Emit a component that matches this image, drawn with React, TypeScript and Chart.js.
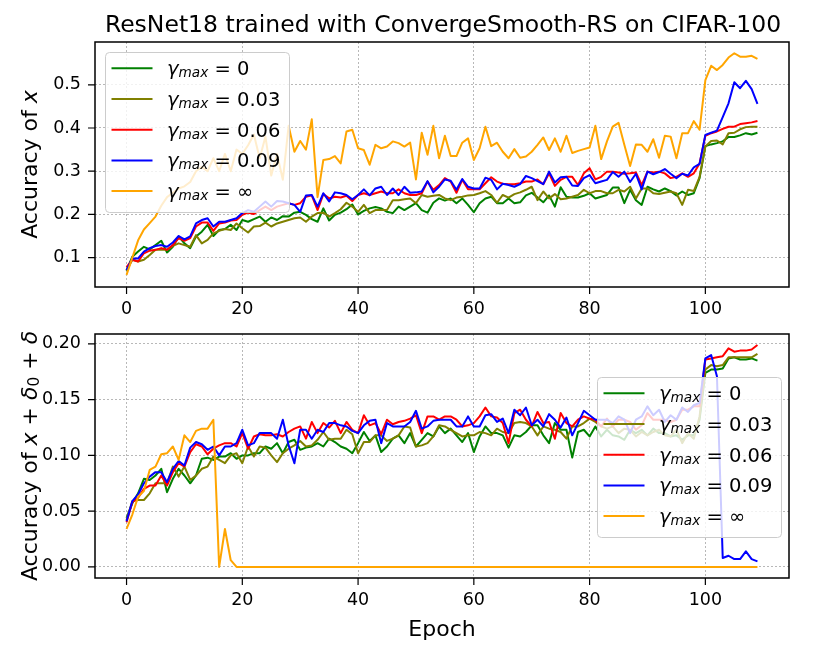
import { useEffect, useRef } from "react";
import { Chart, registerables } from "chart.js";
import type { ChartConfiguration, Plugin } from "chart.js";

Chart.register(...registerables);

// epochs 0..109 on the x axis
const EPOCHS = Array.from({ length: 110 }, (_, i) => i);
const X_TICKS = [0, 20, 40, 60, 80, 100];
const TOP_Y_TICKS = [0.1, 0.2, 0.3, 0.4, 0.5];
const BOTTOM_Y_TICKS = [0, 0.05, 0.1, 0.15, 0.2];
const GAMMA_MAX = ["0", "0.03", "0.06", "0.09", "∞"];

// accuracy of x
const TOP_G0 = [
  0.070, 0.102, 0.114, 0.125, 0.119, 0.129, 0.139, 0.112, 0.125, 0.149,
  0.133, 0.122, 0.149, 0.160, 0.176, 0.150, 0.164, 0.166, 0.176, 0.164,
  0.187, 0.183, 0.189, 0.195, 0.183, 0.193, 0.187, 0.196, 0.195, 0.204,
  0.206, 0.199, 0.189, 0.183, 0.214, 0.186, 0.199, 0.204, 0.212, 0.223,
  0.200, 0.208, 0.214, 0.217, 0.214, 0.206, 0.203, 0.218, 0.210, 0.218,
  0.226, 0.210, 0.204, 0.227, 0.237, 0.232, 0.237, 0.226, 0.237, 0.222,
  0.205, 0.226, 0.237, 0.241, 0.226, 0.226, 0.237, 0.226, 0.228, 0.244,
  0.250, 0.239, 0.228, 0.244, 0.218, 0.263, 0.241, 0.239, 0.239, 0.243,
  0.249, 0.237, 0.241, 0.245, 0.262, 0.262, 0.226, 0.257, 0.233, 0.222,
  0.264, 0.258, 0.253, 0.260, 0.254, 0.244, 0.253, 0.245, 0.249, 0.284,
  0.358, 0.362, 0.365, 0.369, 0.379, 0.379, 0.383, 0.388, 0.385, 0.389,
];
const TOP_G003 = [
  0.070, 0.095, 0.091, 0.095, 0.106, 0.118, 0.119, 0.118, 0.127, 0.133,
  0.129, 0.125, 0.152, 0.133, 0.141, 0.156, 0.162, 0.166, 0.164, 0.179,
  0.168, 0.158, 0.172, 0.173, 0.181, 0.172, 0.179, 0.183, 0.187, 0.191,
  0.193, 0.183, 0.195, 0.203, 0.204, 0.195, 0.203, 0.212, 0.227, 0.218,
  0.206, 0.222, 0.203, 0.210, 0.210, 0.210, 0.233, 0.233, 0.235, 0.237,
  0.226, 0.245, 0.241, 0.243, 0.245, 0.237, 0.233, 0.239, 0.241, 0.244,
  0.245, 0.249, 0.254, 0.245, 0.227, 0.245, 0.239, 0.247, 0.251, 0.257,
  0.264, 0.233, 0.253, 0.237, 0.247, 0.235, 0.237, 0.241, 0.245, 0.257,
  0.249, 0.254, 0.254, 0.249, 0.249, 0.257, 0.253, 0.264, 0.237, 0.260,
  0.260, 0.249, 0.247, 0.250, 0.253, 0.249, 0.222, 0.257, 0.254, 0.287,
  0.357, 0.370, 0.371, 0.362, 0.388, 0.389, 0.397, 0.402, 0.403, 0.403,
];
const TOP_G006 = [
  0.078, 0.095, 0.091, 0.110, 0.116, 0.118, 0.122, 0.118, 0.129, 0.145,
  0.139, 0.145, 0.172, 0.181, 0.181, 0.162, 0.179, 0.181, 0.186, 0.187,
  0.199, 0.204, 0.201, 0.210, 0.218, 0.210, 0.218, 0.222, 0.226, 0.222,
  0.226, 0.241, 0.244, 0.210, 0.247, 0.237, 0.241, 0.239, 0.243, 0.231,
  0.245, 0.249, 0.245, 0.249, 0.253, 0.249, 0.249, 0.258, 0.249, 0.245,
  0.245, 0.249, 0.276, 0.257, 0.268, 0.284, 0.276, 0.250, 0.280, 0.258,
  0.258, 0.258, 0.272, 0.286, 0.276, 0.271, 0.270, 0.270, 0.272, 0.276,
  0.276, 0.281, 0.270, 0.295, 0.266, 0.280, 0.287, 0.287, 0.268, 0.295,
  0.307, 0.281, 0.287, 0.299, 0.299, 0.297, 0.294, 0.295, 0.297, 0.268,
  0.299, 0.297, 0.299, 0.295, 0.284, 0.287, 0.295, 0.287, 0.295, 0.318,
  0.382, 0.388, 0.392, 0.398, 0.403, 0.403, 0.409, 0.411, 0.413, 0.416,
];
const TOP_G009 = [
  0.071, 0.098, 0.098, 0.114, 0.122, 0.127, 0.129, 0.125, 0.135, 0.150,
  0.142, 0.149, 0.179, 0.187, 0.191, 0.172, 0.183, 0.183, 0.187, 0.191,
  0.203, 0.210, 0.206, 0.218, 0.230, 0.218, 0.231, 0.230, 0.226, 0.222,
  0.206, 0.244, 0.245, 0.218, 0.249, 0.230, 0.251, 0.249, 0.245, 0.235,
  0.245, 0.258, 0.244, 0.260, 0.264, 0.245, 0.260, 0.245, 0.264, 0.250,
  0.251, 0.253, 0.277, 0.251, 0.264, 0.281, 0.278, 0.257, 0.282, 0.264,
  0.260, 0.260, 0.285, 0.280, 0.258, 0.271, 0.268, 0.264, 0.270, 0.289,
  0.284, 0.277, 0.270, 0.299, 0.274, 0.286, 0.287, 0.267, 0.266, 0.284,
  0.291, 0.272, 0.276, 0.280, 0.298, 0.287, 0.299, 0.275, 0.294, 0.258,
  0.299, 0.293, 0.298, 0.305, 0.294, 0.284, 0.294, 0.290, 0.309, 0.317,
  0.384, 0.389, 0.394, 0.425, 0.457, 0.506, 0.492, 0.509, 0.490, 0.456,
];
const TOP_GINF = [
  0.060, 0.100, 0.140, 0.165, 0.180, 0.195, 0.220, 0.240, 0.250, 0.260,
  0.265, 0.275, 0.300, 0.310, 0.300, 0.330, 0.300, 0.340, 0.300, 0.350,
  0.340, 0.360, 0.385, 0.330, 0.380, 0.290, 0.340, 0.280, 0.405, 0.345,
  0.370, 0.350, 0.420, 0.240, 0.326, 0.328, 0.335, 0.318, 0.392, 0.396,
  0.353, 0.349, 0.315, 0.361, 0.353, 0.357, 0.369, 0.365, 0.357, 0.366,
  0.281, 0.389, 0.338, 0.405, 0.330, 0.382, 0.335, 0.335, 0.366, 0.376,
  0.326, 0.353, 0.403, 0.358, 0.366, 0.345, 0.330, 0.351, 0.331, 0.334,
  0.345, 0.361, 0.378, 0.349, 0.376, 0.345, 0.382, 0.342, 0.347, 0.351,
  0.355, 0.405, 0.328, 0.369, 0.403, 0.412, 0.361, 0.312, 0.362, 0.361,
  0.345, 0.374, 0.331, 0.382, 0.380, 0.330, 0.388, 0.388, 0.416, 0.396,
  0.511, 0.544, 0.534, 0.546, 0.563, 0.573, 0.565, 0.565, 0.567, 0.560,
];

// accuracy of x + delta0 + delta
const BOT_G0 = [
  0.044, 0.057, 0.066, 0.079, 0.078, 0.082, 0.088, 0.067, 0.079, 0.088,
  0.082, 0.075, 0.082, 0.097, 0.098, 0.096, 0.099, 0.099, 0.102, 0.097,
  0.100, 0.100, 0.102, 0.102, 0.108, 0.106, 0.111, 0.102, 0.112, 0.114,
  0.105, 0.107, 0.108, 0.111, 0.108, 0.115, 0.112, 0.108, 0.106, 0.102,
  0.111, 0.121, 0.113, 0.118, 0.103, 0.108, 0.115, 0.118, 0.111, 0.120,
  0.108, 0.114, 0.120, 0.117, 0.126, 0.120, 0.124, 0.118, 0.112, 0.120,
  0.103, 0.117, 0.126, 0.120, 0.120, 0.118, 0.107, 0.118, 0.117, 0.121,
  0.127, 0.127, 0.118, 0.111, 0.129, 0.123, 0.123, 0.098, 0.121, 0.123,
  0.117, 0.126, 0.117, 0.123, 0.118, 0.117, 0.114, 0.123, 0.120, 0.123,
  0.118, 0.124, 0.120, 0.120, 0.117, 0.118, 0.114, 0.118, 0.118, 0.132,
  0.174, 0.177, 0.177, 0.178, 0.187, 0.188, 0.186, 0.186, 0.187, 0.185,
];
const BOT_G003 = [
  0.042, 0.059, 0.060, 0.060, 0.066, 0.075, 0.075, 0.075, 0.090, 0.081,
  0.090, 0.078, 0.082, 0.088, 0.090, 0.099, 0.096, 0.093, 0.100, 0.102,
  0.093, 0.108, 0.099, 0.108, 0.107, 0.100, 0.094, 0.102, 0.106, 0.109,
  0.113, 0.108, 0.109, 0.114, 0.121, 0.114, 0.115, 0.115, 0.123, 0.119,
  0.102, 0.112, 0.112, 0.118, 0.118, 0.113, 0.115, 0.118, 0.126, 0.125,
  0.108, 0.109, 0.111, 0.117, 0.127, 0.126, 0.123, 0.120, 0.117, 0.118,
  0.118, 0.121, 0.120, 0.118, 0.124, 0.121, 0.120, 0.129, 0.130, 0.129,
  0.126, 0.118, 0.126, 0.124, 0.123, 0.121, 0.115, 0.126, 0.126, 0.129,
  0.133, 0.130, 0.126, 0.124, 0.126, 0.120, 0.124, 0.123, 0.117, 0.121,
  0.118, 0.121, 0.123, 0.118, 0.117, 0.123, 0.111, 0.120, 0.115, 0.135,
  0.177, 0.181, 0.180, 0.181, 0.188, 0.188, 0.188, 0.188, 0.188, 0.191,
];
const BOT_G006 = [
  0.040, 0.058, 0.062, 0.070, 0.073, 0.073, 0.082, 0.073, 0.085, 0.093,
  0.090, 0.103, 0.110, 0.108, 0.101, 0.106, 0.109, 0.111, 0.111, 0.108,
  0.120, 0.106, 0.117, 0.119, 0.118, 0.118, 0.119, 0.117, 0.121, 0.124,
  0.126, 0.115, 0.130, 0.120, 0.129, 0.125, 0.131, 0.120, 0.130, 0.123,
  0.120, 0.136, 0.127, 0.129, 0.119, 0.132, 0.128, 0.130, 0.131, 0.133,
  0.136, 0.120, 0.135, 0.135, 0.132, 0.135, 0.135, 0.132, 0.126, 0.127,
  0.129, 0.135, 0.143, 0.135, 0.134, 0.129, 0.111, 0.138, 0.141, 0.132,
  0.126, 0.139, 0.129, 0.130, 0.115, 0.138, 0.129, 0.126, 0.132, 0.135,
  0.133, 0.132, 0.126, 0.133, 0.126, 0.132, 0.132, 0.130, 0.123, 0.127,
  0.138, 0.132, 0.132, 0.132, 0.130, 0.132, 0.141, 0.141, 0.144, 0.144,
  0.186, 0.187, 0.188, 0.189, 0.196, 0.193, 0.194, 0.194, 0.195, 0.199,
];
const BOT_G009 = [
  0.041, 0.059, 0.065, 0.075, 0.081, 0.085, 0.085, 0.076, 0.088, 0.095,
  0.091, 0.107, 0.112, 0.110, 0.105, 0.108, 0.100, 0.108, 0.108, 0.111,
  0.123, 0.109, 0.111, 0.120, 0.120, 0.120, 0.115, 0.132, 0.109, 0.093,
  0.123, 0.123, 0.115, 0.123, 0.121, 0.129, 0.129, 0.127, 0.126, 0.122,
  0.120, 0.127, 0.131, 0.132, 0.111, 0.129, 0.126, 0.126, 0.126, 0.130,
  0.140, 0.124, 0.126, 0.131, 0.132, 0.132, 0.132, 0.126, 0.126, 0.135,
  0.126, 0.126, 0.136, 0.137, 0.130, 0.133, 0.120, 0.141, 0.136, 0.143,
  0.127, 0.132, 0.126, 0.137, 0.132, 0.125, 0.134, 0.118, 0.129, 0.140,
  0.136, 0.132, 0.132, 0.132, 0.129, 0.135, 0.132, 0.120, 0.132, 0.135,
  0.144, 0.136, 0.141, 0.130, 0.136, 0.132, 0.143, 0.139, 0.145, 0.147,
  0.187, 0.190, 0.171, 0.008, 0.010, 0.007, 0.007, 0.014, 0.007, 0.005,
];
const BOT_GINF = [
  0.034, 0.047, 0.063, 0.068, 0.087, 0.090, 0.101, 0.102, 0.108, 0.096,
  0.118, 0.112, 0.122, 0.124, 0.124, 0.132, 0.000, 0.034, 0.006, 0.000,
  0, 0, 0, 0, 0, 0, 0, 0, 0, 0,
  0, 0, 0, 0, 0, 0, 0, 0, 0, 0,
  0, 0, 0, 0, 0, 0, 0, 0, 0, 0,
  0, 0, 0, 0, 0, 0, 0, 0, 0, 0,
  0, 0, 0, 0, 0, 0, 0, 0, 0, 0,
  0, 0, 0, 0, 0, 0, 0, 0, 0, 0,
  0, 0, 0, 0, 0, 0, 0, 0, 0, 0,
  0, 0, 0, 0, 0, 0, 0, 0, 0, 0,
  0, 0, 0, 0, 0, 0, 0, 0, 0, 0,
];

const COLORS = ["#008000", "#808000", "#ff0000", "#0000ff", "#ffa500"];
const FONT = '"DejaVu Sans"';
const W = 831;
const H = 325;

type Seg = { t: string; it?: boolean; sub?: boolean };

function segFont(s: Seg, size: number) {
  return `${s.it ? "italic " : ""}${s.sub ? size * 0.7 : size}px ${FONT}`;
}

// draws text with italic / subscript pieces (mathtext-ish)
function drawRich(ctx: CanvasRenderingContext2D, segs: Seg[], x: number, y: number, size: number, center: boolean) {
  const widths = segs.map((s) => {
    ctx.font = segFont(s, size);
    return ctx.measureText(s.t).width;
  });
  let cx = center ? x - widths.reduce((a, b) => a + b, 0) / 2 : x;
  ctx.textAlign = "left";
  ctx.textBaseline = "alphabetic";
  segs.forEach((s, i) => {
    ctx.font = segFont(s, size);
    ctx.fillText(s.t, cx, s.sub ? y + size * 0.1 : y);
    cx += widths[i];
  });
}

function roundRect(ctx: CanvasRenderingContext2D, x: number, y: number, w: number, h: number, r: number) {
  ctx.beginPath();
  ctx.moveTo(x + r, y);
  ctx.arcTo(x + w, y, x + w, y + h, r);
  ctx.arcTo(x + w, y + h, x, y + h, r);
  ctx.arcTo(x, y + h, x, y, r);
  ctx.arcTo(x, y, x + w, y, r);
  ctx.closePath();
}

interface Decor {
  title?: string;
  xLabel?: string;
  yLabel: Seg[];
  legendLeft: number;
  legendTop: number;
}

function decorPlugin(d: Decor): Plugin<"line"> {
  return {
    id: "decor",
    afterDraw(chart) {
      const { ctx, chartArea: a } = chart;
      const xs = chart.scales.x;
      const ys = chart.scales.y;
      ctx.save();

      ctx.strokeStyle = "#000";
      ctx.lineWidth = 1.5;
      ctx.strokeRect(a.left, a.top, a.right - a.left, a.bottom - a.top);

      ctx.lineWidth = 1.2;
      ctx.beginPath();
      xs.ticks.forEach((t) => {
        const p = xs.getPixelForValue(t.value);
        ctx.moveTo(p, a.bottom);
        ctx.lineTo(p, a.bottom + 7);
      });
      ys.ticks.forEach((t) => {
        const p = ys.getPixelForValue(t.value);
        ctx.moveTo(a.left - 7, p);
        ctx.lineTo(a.left, p);
      });
      ctx.stroke();

      ctx.fillStyle = "#000";
      const mid = (a.left + a.right) / 2;
      if (d.title) {
        ctx.font = `23.5px ${FONT}`;
        ctx.textAlign = "center";
        ctx.textBaseline = "alphabetic";
        ctx.fillText(d.title, mid + 1, 31.5);
      }
      if (d.xLabel) {
        ctx.font = `22px ${FONT}`;
        ctx.textAlign = "center";
        ctx.textBaseline = "alphabetic";
        ctx.fillText(d.xLabel, mid, a.bottom + 57.5);
      }

      ctx.save();
      ctx.translate(37, (a.top + a.bottom) / 2);
      ctx.rotate(-Math.PI / 2);
      drawRich(ctx, d.yLabel, 0, 0, 22, true);
      ctx.restore();

      // legend box
      const L = d.legendLeft;
      const T = d.legendTop;
      roundRect(ctx, L + 0.5, T + 0.5, 184, 160, 4);
      ctx.fillStyle = "rgba(255,255,255,0.8)";
      ctx.fill();
      ctx.strokeStyle = "#cccccc";
      ctx.lineWidth = 1;
      ctx.stroke();
      chart.data.datasets.forEach((ds, i) => {
        const y = T + 16.3 + i * 30.7;
        ctx.strokeStyle = ds.borderColor as string;
        ctx.lineWidth = 2;
        ctx.beginPath();
        ctx.moveTo(L + 6.5, y);
        ctx.lineTo(L + 47.5, y);
        ctx.stroke();
        ctx.fillStyle = "#000";
        drawRich(
          ctx,
          [{ t: "γ", it: true }, { t: "max", it: true, sub: true }, { t: " = " + ds.label }],
          L + 62,
          y + 7,
          19.5,
          false
        );
      });
      ctx.restore();
    },
  };
}

interface PanelProps {
  series: number[][];
  yMin: number;
  yMax: number;
  yTicks: number[];
  digits: number;
  top: number;
  padTop: number;
  axisHeight: number;
  decor: Decor;
}

function Panel({ series, yMin, yMax, yTicks, digits, top, padTop, axisHeight, decor }: PanelProps) {
  const canvasRef = useRef<HTMLCanvasElement>(null);

  useEffect(() => {
    if (!canvasRef.current) return;
    const ctx = canvasRef.current.getContext("2d");
    if (!ctx) return;

    const tickFont = { family: FONT, size: 17.5 };
    const config: ChartConfiguration<"line"> = {
      type: "line",
      data: {
        datasets: series.map((vals, i) => ({
          label: GAMMA_MAX[i],
          data: EPOCHS.map((e, j) => ({ x: e, y: vals[j] })),
          borderColor: COLORS[i],
          backgroundColor: COLORS[i],
          borderWidth: 2,
          pointRadius: 0,
          tension: 0,
          fill: false,
          order: series.length - i,
        })),
      },
      options: {
        responsive: false,
        animation: false,
        events: [],
        layout: { padding: { top: padTop, right: 42, bottom: 0, left: 0 } },
        plugins: {
          legend: { display: false },
          tooltip: { enabled: false },
          title: { display: false },
        },
        elements: { line: { borderJoinStyle: "round" } },
        scales: {
          x: {
            type: "linear",
            min: -5.45,
            max: 114.45,
            afterBuildTicks: (s) => {
              s.ticks = X_TICKS.map((value) => ({ value }));
            },
            afterFit: (s) => {
              s.height = axisHeight;
              s.paddingLeft = s.paddingRight = s.paddingTop = s.paddingBottom = 0;
            },
            ticks: {
              autoSkip: false,
              maxRotation: 0,
              padding: 11.5,
              color: "#000",
              font: tickFont,
              callback: (v) => String(v),
            },
            grid: { color: "#b0b0b0", lineWidth: 0.9, drawTicks: false },
            border: { display: false, dash: [2, 2] },
          },
          y: {
            type: "linear",
            min: yMin,
            max: yMax,
            afterBuildTicks: (s) => {
              s.ticks = yTicks.map((value) => ({ value }));
            },
            afterFit: (s) => {
              s.width = 95;
              s.paddingLeft = s.paddingRight = s.paddingTop = s.paddingBottom = 0;
            },
            ticks: {
              autoSkip: false,
              padding: 14,
              color: "#000",
              font: tickFont,
              callback: (v) => Number(v).toFixed(digits),
            },
            grid: { color: "#b0b0b0", lineWidth: 0.9, drawTicks: false },
            border: { display: false, dash: [2, 2] },
          },
        },
      },
      plugins: [decorPlugin(decor)],
    };

    const chart = new Chart(ctx, config);
    return () => {
      chart.destroy();
    };
  }, [series, yMin, yMax, yTicks, digits, padTop, axisHeight, decor]);

  return (
    <canvas
      ref={canvasRef}
      width={W}
      height={H}
      style={{ position: "absolute", left: 0, top, display: "block" }}
    />
  );
}

const TOP_SERIES = [TOP_G0, TOP_G003, TOP_G006, TOP_G009, TOP_GINF];
const BOT_SERIES = [BOT_G0, BOT_G003, BOT_G006, BOT_G009, BOT_GINF];

const TOP_DECOR: Decor = {
  title: "ResNet18 trained with ConvergeSmooth-RS on CIFAR-100",
  yLabel: [{ t: "Accuracy of " }, { t: "x", it: true }],
  legendLeft: 105,
  legendTop: 52,
};
const BOT_DECOR: Decor = {
  xLabel: "Epoch",
  yLabel: [
    { t: "Accuracy of " },
    { t: "x", it: true },
    { t: " + " },
    { t: "δ", it: true },
    { t: "0", sub: true },
    { t: " + " },
    { t: "δ", it: true },
  ],
  legendLeft: 597,
  legendTop: 52,
};

export default function App() {
  return (
    <div
      style={{
        position: "absolute",
        left: 0,
        top: 0,
        width: W,
        height: 650,
        background: "#fff",
        overflow: "hidden",
      }}
    >
      <Panel
        series={TOP_SERIES}
        yMin={0.032}
        yMax={0.599}
        yTicks={TOP_Y_TICKS}
        digits={1}
        top={0}
        padTop={42}
        axisHeight={38}
        decor={TOP_DECOR}
      />
      <Panel
        series={BOT_SERIES}
        yMin={-0.00995}
        yMax={0.2089}
        yTicks={BOTTOM_Y_TICKS}
        digits={2}
        top={325}
        padTop={9}
        axisHeight={72}
        decor={BOT_DECOR}
      />
    </div>
  );
}
